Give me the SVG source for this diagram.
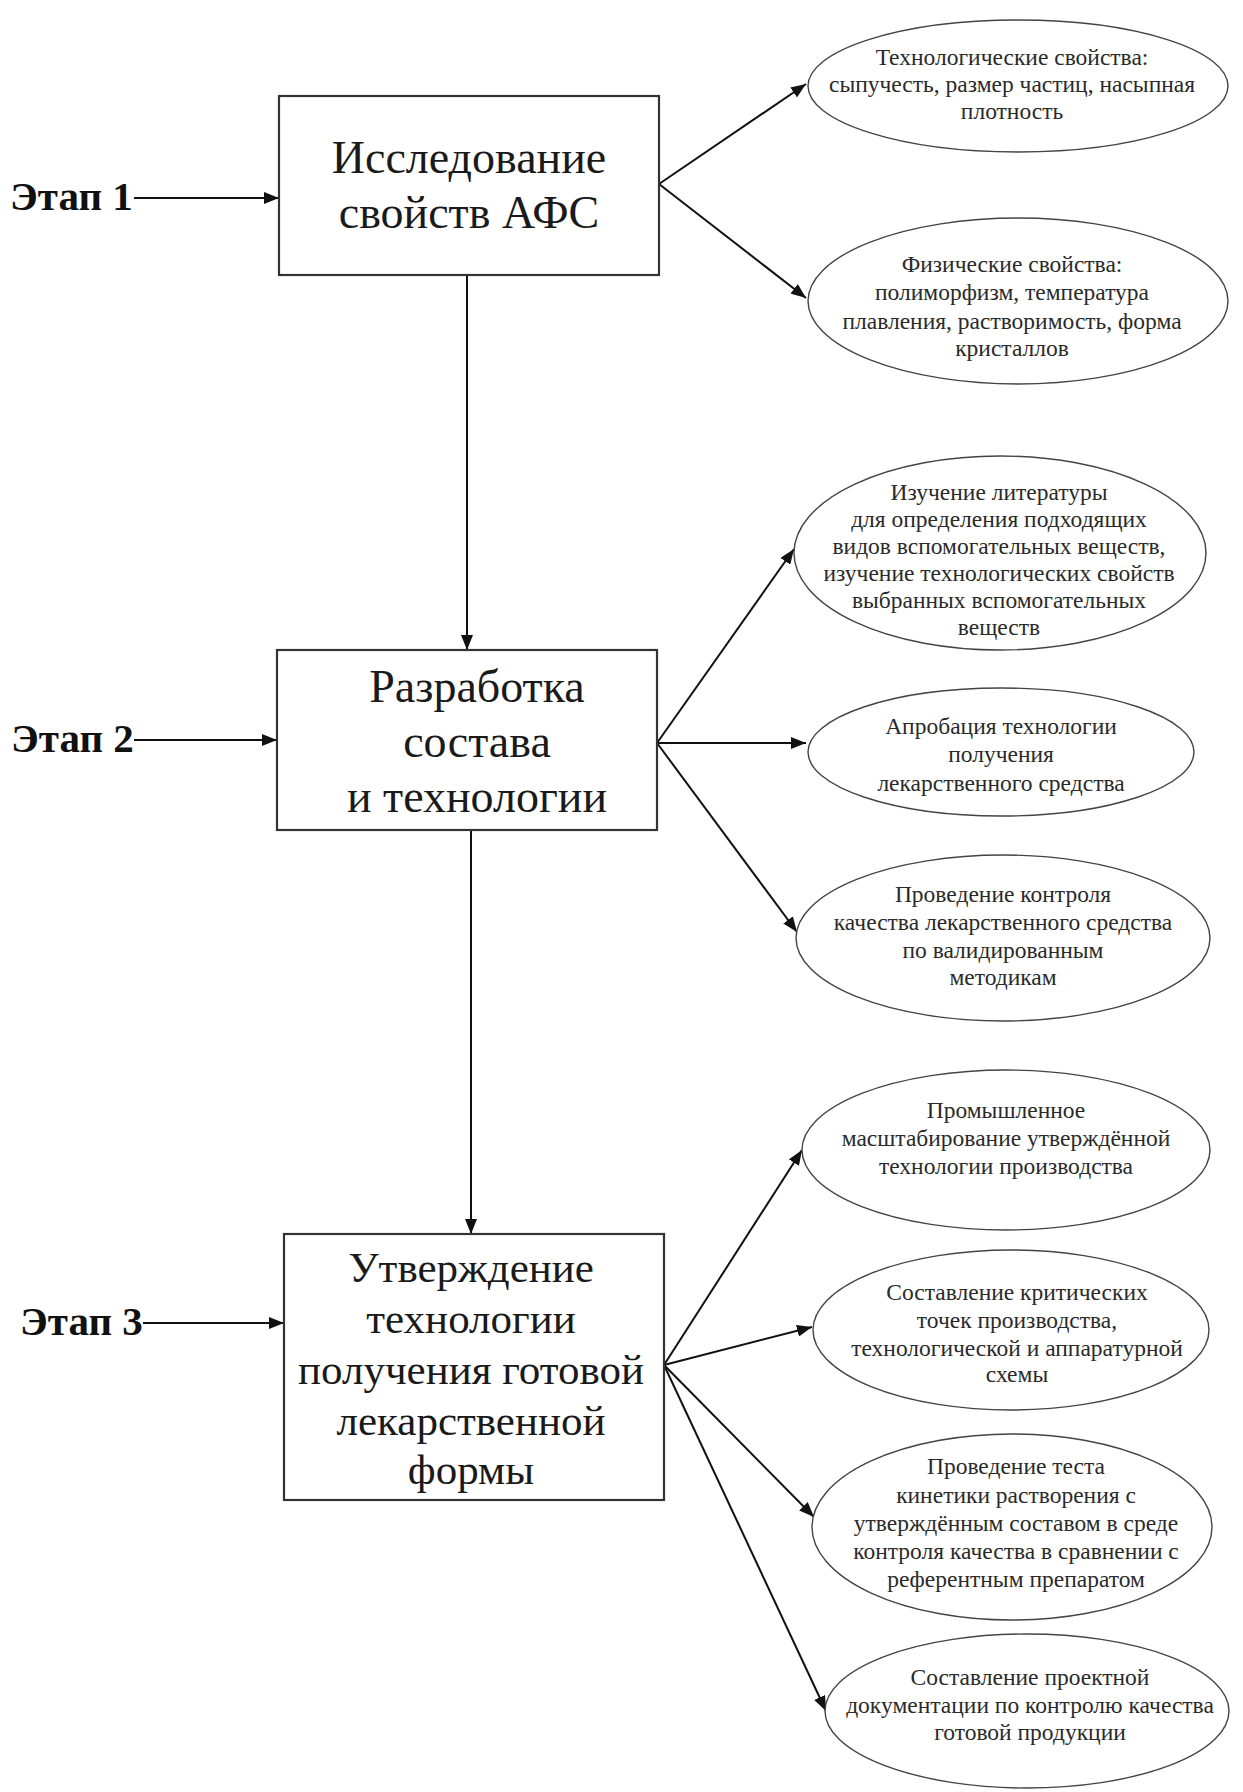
<svg xmlns="http://www.w3.org/2000/svg" width="1243" height="1792" viewBox="0 0 1243 1792">
<style>
.box{fill:#fff;stroke:#333;stroke-width:2.2}
.ell{fill:#fff;stroke:#444;stroke-width:1.4}
.bt{font-family:"Liberation Serif",serif;font-size:46px;fill:#1a1a1a;text-anchor:middle}
.bt3{font-family:"Liberation Serif",serif;font-size:43px;fill:#1a1a1a;text-anchor:middle}
.et{font-family:"Liberation Serif",serif;font-size:23.5px;fill:#2a2a2a;text-anchor:middle}
.st{font-family:"Liberation Serif",serif;font-size:41px;font-weight:bold;fill:#111}
.con{stroke:#111;stroke-width:2;fill:none;marker-end:url(#ah)}
</style>
<defs>
<marker id="ah" markerUnits="userSpaceOnUse" markerWidth="16" markerHeight="12" refX="15" refY="6" orient="auto">
<path d="M0,0 L15,6 L0,12 z" fill="#111"/>
</marker>
</defs>
<rect width="1243" height="1792" fill="#fff"/>

<g id="connectors">
<line class="con" x1="134" y1="198" x2="279" y2="198"/>
<line class="con" x1="134" y1="740" x2="277" y2="740"/>
<line class="con" x1="143" y1="1323" x2="284" y2="1323"/>
<line class="con" x1="467" y1="275" x2="467" y2="650"/>
<line class="con" x1="471" y1="830" x2="471" y2="1234"/>
<line class="con" x1="659" y1="184" x2="806" y2="84"/>
<line class="con" x1="659" y1="184" x2="806" y2="298"/>
<line class="con" x1="657" y1="743" x2="794" y2="549"/>
<line class="con" x1="657" y1="743" x2="806" y2="743"/>
<line class="con" x1="657" y1="743" x2="797" y2="932"/>
<line class="con" x1="664" y1="1365" x2="802" y2="1150"/>
<line class="con" x1="664" y1="1365" x2="812" y2="1327"/>
<line class="con" x1="664" y1="1365" x2="814" y2="1517"/>
<line class="con" x1="664" y1="1365" x2="826" y2="1711"/>
</g>

<g id="stage1"><text class="st" x="10" y="210">Этап 1</text></g>
<g id="stage2"><text class="st" x="11" y="752">Этап 2</text></g>
<g id="stage3"><text class="st" x="20" y="1335">Этап 3</text></g>

<g id="box1">
<rect class="box" x="279" y="96" width="380" height="179"/>
<text class="bt" x="469" y="173">Исследование</text>
<text class="bt" x="469" y="228">свойств АФС</text>
</g>
<g id="box2">
<rect class="box" x="277" y="650" width="380" height="180"/>
<text class="bt" x="477" y="702">Разработка</text>
<text class="bt" x="477" y="757">состава</text>
<text class="bt" x="477" y="812">и технологии</text>
</g>
<g id="box3">
<rect class="box" x="284" y="1234" width="380" height="266"/>
<text class="bt3" x="471" y="1282">Утверждение</text>
<text class="bt3" x="471" y="1333">технологии</text>
<text class="bt3" x="471" y="1384">получения готовой</text>
<text class="bt3" x="471" y="1435">лекарственной</text>
<text class="bt3" x="471" y="1484">формы</text>
</g>

<g id="e1">
<ellipse class="ell" cx="1018" cy="86" rx="210" ry="66"/>
<text class="et" x="1012" y="65">Технологические свойства:</text>
<text class="et" x="1012" y="92">сыпучесть, размер частиц, насыпная</text>
<text class="et" x="1012" y="119">плотность</text>
</g>
<g id="e2">
<ellipse class="ell" cx="1018" cy="301" rx="210" ry="83"/>
<text class="et" x="1012" y="272">Физические свойства:</text>
<text class="et" x="1012" y="300">полиморфизм, температура</text>
<text class="et" x="1012" y="329">плавления, растворимость, форма</text>
<text class="et" x="1012" y="356">кристаллов</text>
</g>
<g id="e3">
<ellipse class="ell" cx="1000" cy="553" rx="206" ry="97"/>
<text class="et" x="999" y="500">Изучение литературы</text>
<text class="et" x="999" y="527">для определения подходящих</text>
<text class="et" x="999" y="554">видов вспомогательных веществ,</text>
<text class="et" x="999" y="581">изучение технологических свойств</text>
<text class="et" x="999" y="608">выбранных вспомогательных</text>
<text class="et" x="999" y="635">веществ</text>
</g>
<g id="e4">
<ellipse class="ell" cx="1001" cy="752" rx="193" ry="64"/>
<text class="et" x="1001" y="734">Апробация технологии</text>
<text class="et" x="1001" y="762">получения</text>
<text class="et" x="1001" y="791">лекарственного средства</text>
</g>
<g id="e5">
<ellipse class="ell" cx="1003" cy="938" rx="207" ry="83"/>
<text class="et" x="1003" y="902">Проведение контроля</text>
<text class="et" x="1003" y="930">качества лекарственного средства</text>
<text class="et" x="1003" y="958">по валидированным</text>
<text class="et" x="1003" y="985">методикам</text>
</g>
<g id="e6">
<ellipse class="ell" cx="1006" cy="1150" rx="204" ry="80"/>
<text class="et" x="1006" y="1118">Промышленное</text>
<text class="et" x="1006" y="1146">масштабирование утверждённой</text>
<text class="et" x="1006" y="1174">технологии производства</text>
</g>
<g id="e7">
<ellipse class="ell" cx="1011" cy="1330" rx="198" ry="80"/>
<text class="et" x="1017" y="1300">Составление критических</text>
<text class="et" x="1017" y="1328">точек производства,</text>
<text class="et" x="1017" y="1356">технологической и аппаратурной</text>
<text class="et" x="1017" y="1382">схемы</text>
</g>
<g id="e8">
<ellipse class="ell" cx="1012" cy="1527" rx="200" ry="93"/>
<text class="et" x="1016" y="1474">Проведение теста</text>
<text class="et" x="1016" y="1503">кинетики растворения с</text>
<text class="et" x="1016" y="1531">утверждённым составом в среде</text>
<text class="et" x="1016" y="1559">контроля качества в сравнении с</text>
<text class="et" x="1016" y="1587">референтным препаратом</text>
</g>
<g id="e9">
<ellipse class="ell" cx="1027" cy="1711" rx="202" ry="77"/>
<text class="et" x="1030" y="1685">Составление проектной</text>
<text class="et" x="1030" y="1713">документации по контролю качества</text>
<text class="et" x="1030" y="1740">готовой продукции</text>
</g>
</svg>
